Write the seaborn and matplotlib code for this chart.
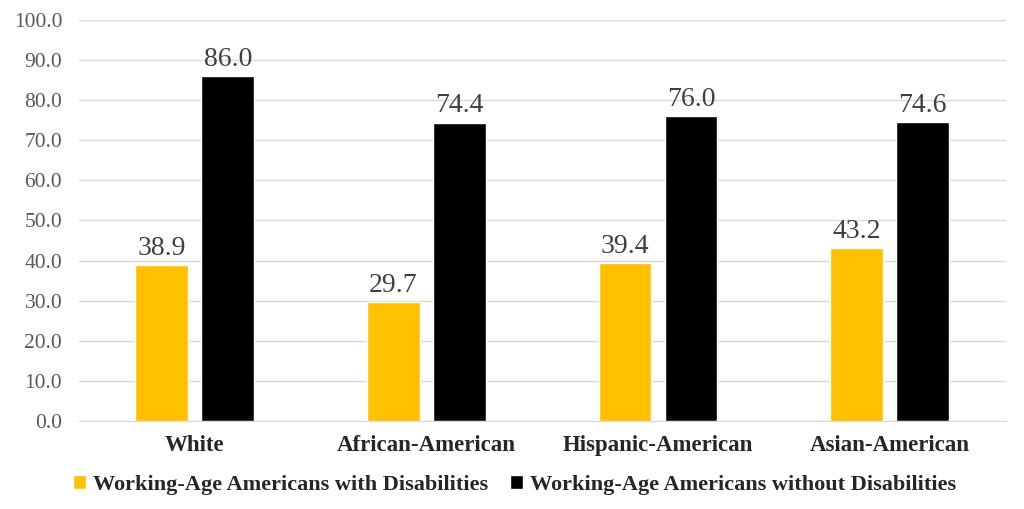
import matplotlib
matplotlib.use('Agg')
import matplotlib.pyplot as plt
import seaborn as sns
import pandas as pd

# ====================== DATA ======================
groups = ['White', 'African-American', 'Hispanic-American', 'Asian-American']
series_names = ['Working-Age Americans with Disabilities',
                'Working-Age Americans without Disabilities']
with_dis = [38.9, 29.7, 39.4, 43.2]
without_dis = [86.0, 74.4, 76.0, 74.6]
y_ticks = [0, 10, 20, 30, 40, 50, 60, 70, 80, 90, 100]

df = pd.DataFrame({
    'group': groups * 2,
    'series': [series_names[0]] * len(groups) + [series_names[1]] * len(groups),
    'value': with_dis + without_dis,
})

# ====================== PLOT ======================
sns.set_style('white')
plt.rcParams['font.family'] = ['Liberation Serif', 'DejaVu Serif']

fig = plt.figure(figsize=(10.24, 5.09), dpi=100)
ax = fig.add_axes([0.077, 0.173, 0.905, 0.788])

palette = {series_names[0]: '#FFC000', series_names[1]: '#000000'}
sns.barplot(data=df, x='group', y='value', hue='series', palette=palette,
            width=0.57, gap=0.2, ax=ax, saturation=1, legend=True)

for c in ax.containers:
    ax.bar_label(c, fmt='%.1f', padding=3, fontsize=20, color='#404040')

ax.set_ylim(0, 100)
ax.set_yticks(y_ticks)
ax.set_yticklabels([f'{t:.1f}' for t in y_ticks], fontsize=15.5, color='#595959')
ax.yaxis.grid(True, color='#D9D9D9', linewidth=1)
ax.set_axisbelow(True)
ax.tick_params(axis='both', length=0)
ax.tick_params(axis='y', pad=12)
ax.tick_params(axis='x', pad=10)
for lbl in ax.get_xticklabels():
    lbl.set_fontsize(16.5)
    lbl.set_fontweight('bold')
ax.set_xlabel('')
ax.set_ylabel('')
for s in ['top', 'right', 'left']:
    ax.spines[s].set_visible(False)
ax.spines['bottom'].set_color('#D9D9D9')

ax.legend(loc='upper center', bbox_to_anchor=(0.47, -0.085), ncol=2, frameon=False,
          prop={'size': 16, 'weight': 'bold'}, handlelength=0.6, handleheight=0.6,
          handletextpad=0.3, columnspacing=1.0)

fig.savefig('out.png', dpi=100)
plt.close(fig)
